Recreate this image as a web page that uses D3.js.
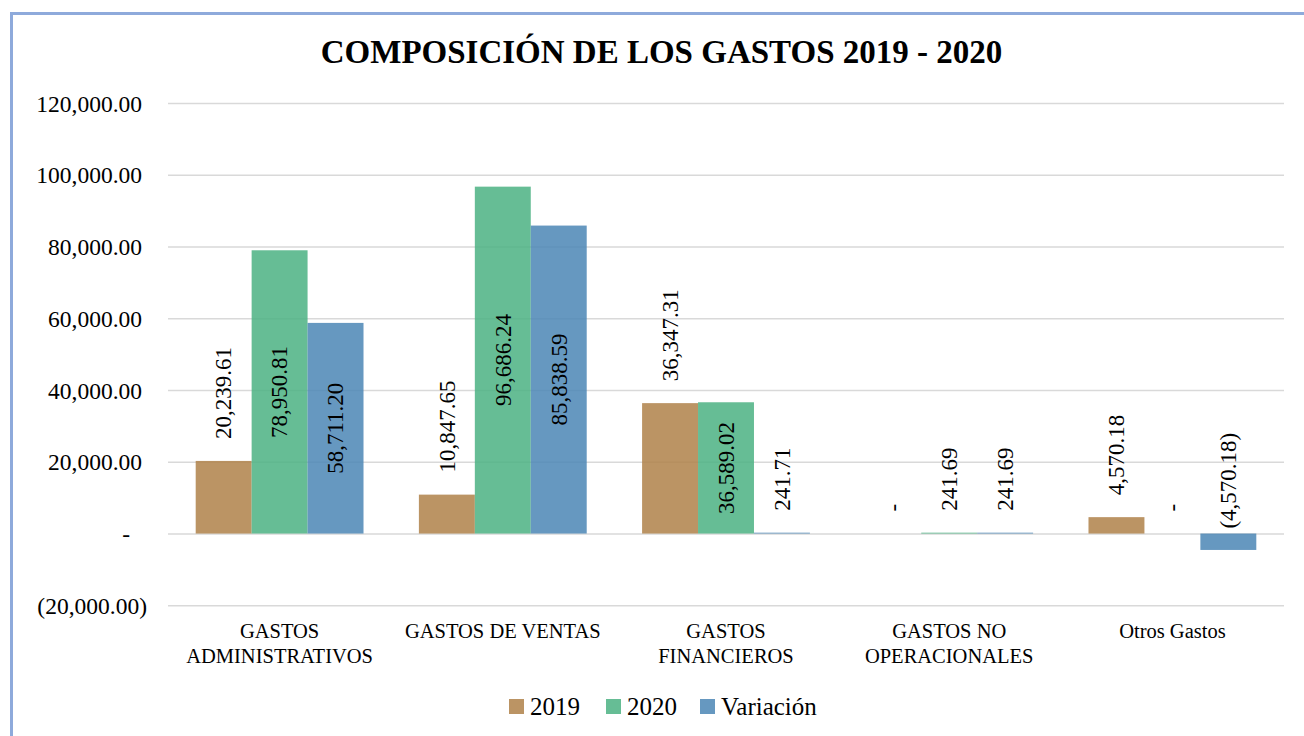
<!DOCTYPE html>
<html>
<head>
<meta charset="utf-8">
<script src="https://cdn.jsdelivr.net/npm/d3@7"></script>
<style>
  html, body { margin: 0; padding: 0; background: #ffffff; }
  svg { display: block; }
  text { font-family: "Liberation Serif", "Times New Roman", serif; fill: #000; }
</style>
</head>
<body>
<svg id="chart" width="1304" height="736"></svg>
<script>
// Expense categories (split into the lines shown under the axis)
const categoryLines = [
  ["GASTOS", "ADMINISTRATIVOS"],
  ["GASTOS DE VENTAS"],
  ["GASTOS", "FINANCIEROS"],
  ["GASTOS NO", "OPERACIONALES"],
  ["Otros Gastos"]
];
const seriesNames = ["2019", "2020", "Variación"];
const values2019 = [20239.61, 10847.65, 36347.31, 0, 4570.18];
const values2020 = [78950.81, 96686.24, 36589.02, 241.69, 0];
const valuesVariacion = [58711.20, 85838.59, 241.71, 241.69, -4570.18];
const yTicks = [-20000, 0, 20000, 40000, 60000, 80000, 100000, 120000];
const titleText = "COMPOSICIÓN DE LOS GASTOS 2019 - 2020";

const seriesValues = [values2019, values2020, valuesVariacion];
const colors = ["#af8149", "#4bb183", "#4b86b5"];

const svg = d3.select("#chart");

// outer chart frame
svg.append("rect")
  .attr("x", 11.5).attr("y", 13.5)
  .attr("width", 1400).attr("height", 900)
  .attr("fill", "#ffffff")
  .attr("stroke", "#8eaadb").attr("stroke-width", 3);

const plot = { left: 168, right: 1284, top: 103, bottom: 605.3 };

const x0 = d3.scaleBand()
  .domain(d3.range(categoryLines.length))
  .range([plot.left, plot.right])
  .paddingInner(0).paddingOuter(0);

// 33% gap width: cluster occupies band / 1.33
const clusterW = x0.bandwidth() / 1.33;
const x1 = d3.scaleBand()
  .domain(d3.range(seriesNames.length))
  .range([0, clusterW]);

const y = d3.scaleLinear()
  .domain([d3.min(yTicks), d3.max(yTicks)])
  .range([plot.bottom, plot.top]);

// accounting-style number format
const num = d3.format(",.2f");
function acct(v) {
  if (v === 0) return "-";
  if (v < 0) return "(" + num(-v) + ")";
  return num(v);
}

// gridlines
const grid = d3.axisLeft(y)
  .tickValues(yTicks)
  .tickSize(-(plot.right - plot.left))
  .tickFormat("");
svg.append("g")
  .attr("transform", `translate(${plot.left},0)`)
  .call(grid)
  .call(g => g.select(".domain").remove())
  .call(g => g.selectAll("line").attr("stroke", "#d9d9d9").attr("stroke-width", 1.6));

// y tick labels
const yAxis = d3.axisLeft(y)
  .tickValues(yTicks)
  .tickSize(0)
  .tickFormat(acct);
svg.append("g")
  .attr("transform", `translate(147,0)`)
  .call(yAxis)
  .call(g => g.select(".domain").remove())
  .call(g => g.selectAll("text")
    .attr("font-size", "23.5px")
    .attr("font-family", "Liberation Serif, Times New Roman, serif")
    .attr("fill", "#000")
    .attr("text-anchor", "end")
    .attr("x", d => d < 0 ? 0 : (d === 0 ? -17 : -5))
    .attr("dy", "0.34em"));

// bars
const groups = svg.append("g").selectAll("g")
  .data(categoryLines.map((c, i) => i))
  .join("g")
  .attr("transform", i => `translate(${x0(i) + (x0.bandwidth() - clusterW) / 2},0)`);

const cells = groups.selectAll("g.cell")
  .data(i => seriesValues.map((vals, s) => ({ cat: i, s, v: vals[i] })))
  .join("g").attr("class", "cell");

cells.append("rect")
  .attr("x", d => x1(d.s))
  .attr("width", x1.bandwidth())
  .attr("y", d => y(Math.max(0, d.v)))
  .attr("height", d => Math.abs(y(d.v) - y(0)))
  .attr("fill", d => colors[d.s])
  .attr("fill-opacity", 0.85);

// value labels, rotated
const labelSize = 23;
cells.append("text")
  .attr("font-size", labelSize + "px")
  .attr("text-anchor", d => {
    const h = Math.abs(y(d.v) - y(0));
    return (d.s > 0 && d.v > 0 && h > 130) ? "middle" : "start";
  })
  .attr("transform", d => {
    const cx = x1(d.s) + x1.bandwidth() / 2;
    const h = Math.abs(y(d.v) - y(0));
    let ay;
    if (d.s > 0 && d.v > 0 && h > 130) {
      ay = (y(d.v) + y(0)) / 2;
    } else if (d.v < 0) {
      ay = y(0) - 5;
    } else {
      ay = y(d.v) - 22;
    }
    return `translate(${cx},${ay}) rotate(-90)`;
  })
  .attr("dy", "0.34em")
  .text(d => acct(d.v));

// category labels
const catG = svg.append("g").selectAll("text")
  .data(categoryLines)
  .join("text")
  .attr("font-size", "20.5px")
  .attr("text-anchor", "middle")
  .attr("x", (d, i) => x0(i) + x0.bandwidth() / 2)
  .attr("y", 638);
catG.selectAll("tspan")
  .data(d => d)
  .join("tspan")
  .attr("x", function () { return d3.select(this.parentNode).attr("x"); })
  .attr("dy", (d, i) => i === 0 ? 0 : 25)
  .text(d => d);

// title
svg.append("text")
  .attr("x", 661.5).attr("y", 63)
  .attr("text-anchor", "middle")
  .attr("font-size", "33px")
  .attr("font-weight", "bold")
  .text(titleText);

// legend
const legendX = [509, 606, 700];
const legend = svg.append("g").selectAll("g")
  .data(seriesNames)
  .join("g")
  .attr("transform", (d, i) => `translate(${legendX[i]},0)`);
legend.append("rect")
  .attr("x", 0).attr("y", 699)
  .attr("width", 15).attr("height", 15)
  .attr("fill", (d, i) => colors[i])
  .attr("fill-opacity", 0.85);
legend.append("text")
  .attr("x", 21).attr("y", 715)
  .attr("font-size", "25px")
  .text(d => d);
</script>
</body>
</html>
